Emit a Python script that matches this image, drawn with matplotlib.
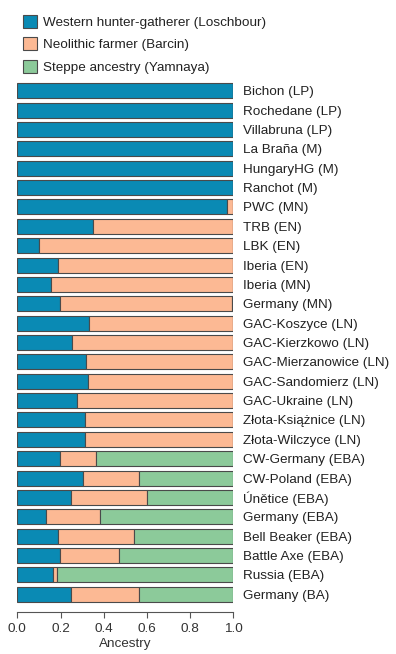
import matplotlib
matplotlib.use("Agg")
import matplotlib.pyplot as plt
from matplotlib.patches import Patch
import numpy as np

plt.rcParams['font.family'] = ['Liberation Sans', 'DejaVu Sans']

populations = [
    "Bichon (LP)", "Rochedane (LP)", "Villabruna (LP)", "La Braña (M)",
    "HungaryHG (M)", "Ranchot (M)", "PWC (MN)", "TRB (EN)", "LBK (EN)",
    "Iberia (EN)", "Iberia (MN)", "Germany (MN)", "GAC-Koszyce (LN)",
    "GAC-Kierzkowo (LN)", "GAC-Mierzanowice (LN)", "GAC-Sandomierz (LN)",
    "GAC-Ukraine (LN)", "Złota-Książnice (LN)", "Złota-Wilczyce (LN)",
    "CW-Germany (EBA)", "CW-Poland (EBA)", "Únětice (EBA)", "Germany (EBA)",
    "Bell Beaker (EBA)", "Battle Axe (EBA)", "Russia (EBA)", "Germany (BA)",
]
whg = [1.0, 1.0, 1.0, 1.0, 1.0, 1.0, 0.969, 0.349, 0.099, 0.187, 0.155, 0.196,
       0.334, 0.255, 0.317, 0.327, 0.275, 0.315, 0.312,
       0.198, 0.303, 0.247, 0.134, 0.188, 0.199, 0.164, 0.247]
farmer = [0.0, 0.0, 0.0, 0.0, 0.0, 0.0, 0.031, 0.651, 0.901, 0.813, 0.845, 0.797,
          0.666, 0.745, 0.683, 0.673, 0.725, 0.685, 0.688,
          0.165, 0.259, 0.355, 0.247, 0.351, 0.273, 0.021, 0.315]
steppe = [0.0, 0.0, 0.0, 0.0, 0.0, 0.0, 0.0, 0.0, 0.0, 0.0, 0.0, 0.007,
          0.0, 0.0, 0.0, 0.0, 0.0, 0.0, 0.0,
          0.637, 0.438, 0.398, 0.619, 0.461, 0.528, 0.815, 0.438]
series_names = ["Western hunter-gatherer (Loschbour)", "Neolithic farmer (Barcin)",
                "Steppe ancestry (Yamnaya)"]
colors = ["#0A8AB4", "#FCB994", "#8CCA9A"]
xticks = [0.0, 0.2, 0.4, 0.6, 0.8, 1.0]

W, H = 396, 654
FS = 9.7
fig = plt.figure(figsize=(W / 100, H / 100), dpi=100)
ax_left = 17.3 / W
ax_width = 216 / W
ax_bottom = (H - 611.7) / H
ax_top = (H - 81.1) / H
ax = fig.add_axes([ax_left, ax_bottom, ax_width, ax_top - ax_bottom])

y = np.arange(len(populations))
edge = "#4a4a4a"
lw = 0.8
h = 0.775
whg_a = np.array(whg)
far_a = np.array(farmer)
ste_a = np.array(steppe)
ax.barh(y, whg_a, height=h, color=colors[0], edgecolor=edge, linewidth=lw)
ax.barh(y, far_a, left=whg_a, height=h, color=colors[1], edgecolor=edge, linewidth=lw)
ax.barh(y, ste_a, left=whg_a + far_a, height=h, color=colors[2], edgecolor=edge, linewidth=lw)

ax.set_xlim(0, 1)
ax.set_ylim(len(populations) - 1 + 0.904, -0.5)
ax.set_xticks(xticks)
ax.set_xticklabels([f"{t:.1f}" for t in xticks])
ax.set_yticks(y)
ax.set_yticklabels(populations)
ax.yaxis.tick_right()
ax.tick_params(axis='y', length=0, pad=7, labelsize=FS, labelcolor="#222222")
ax.tick_params(axis='x', length=4, width=0.8, color="#555555", pad=4, labelsize=FS, labelcolor="#333333")
for s in ['top', 'right', 'left']:
    ax.spines[s].set_visible(False)
ax.spines['bottom'].set_color("#555555")
ax.spines['bottom'].set_linewidth(0.8)
ax.set_xlabel("Ancestry", fontsize=FS, color="#333333", labelpad=2.5)

handles = [Patch(facecolor=c, edgecolor=edge, linewidth=lw) for c in colors]
fig.legend(handles, series_names, loc='upper left', bbox_to_anchor=(18.5 / W, 1 - 11 / H),
           frameon=False, fontsize=FS, handlelength=1.1, handleheight=1.1,
           handletextpad=0.45, labelspacing=0.62, borderpad=0.3, borderaxespad=0,
           labelcolor="#222222")

fig.savefig("out.png", dpi=100)
